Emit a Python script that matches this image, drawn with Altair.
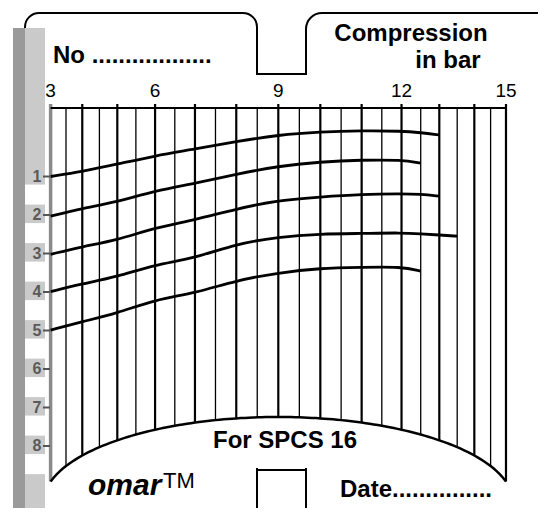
import altair as alt
import pandas as pd

# ---- values read from the card ----
grid_bar = [3, 3.5, 4, 4.5, 5, 5.5, 6, 6.5, 7, 7.5, 8, 8.5, 9, 9.5, 10, 10.5,
            11, 11.5, 12, 12.5, 13, 13.5, 14, 14.5, 15]
tick_labels = [3, 6, 9, 12, 15]
rows = [1, 2, 3, 4, 5, 6, 7, 8]

curve1_bar = [3, 4, 5, 6, 7, 8, 9, 10, 11, 12, 12.5, 13]
curve1_row = [1.00, 0.87, 0.68, 0.46, 0.29, 0.09, -0.08, -0.16, -0.19, -0.18, -0.14, -0.08]
curve2_bar = [3, 4, 5, 6, 7, 8, 9, 10, 11, 12, 12.5]
curve2_row = [2.03, 1.83, 1.66, 1.37, 1.18, 0.94, 0.73, 0.62, 0.57, 0.57, 0.65]
curve3_bar = [3, 4, 5, 6, 7, 8, 9, 10, 11, 12, 12.5, 13]
curve3_row = [3.02, 2.82, 2.65, 2.33, 2.13, 1.84, 1.62, 1.53, 1.46, 1.45, 1.46, 1.51]
curve4_bar = [3, 4, 5, 6, 7, 8, 9, 10, 11, 12, 12.5, 13, 13.5]
curve4_row = [3.99, 3.79, 3.60, 3.29, 3.12, 2.75, 2.57, 2.49, 2.48, 2.46, 2.49, 2.52, 2.55]
curve5_bar = [3, 4, 5, 6, 7, 8, 9, 10, 11, 12, 12.5]
curve5_row = [4.99, 4.77, 4.55, 4.20, 4.03, 3.70, 3.50, 3.38, 3.36, 3.34, 3.46]

FONT = "Liberation Sans"

# ---- tables ----
curves = pd.concat([
    pd.DataFrame({"v": b, "row": r, "curve": name})
    for name, b, r in [("1", curve1_bar, curve1_row), ("2", curve2_bar, curve2_row),
                       ("3", curve3_bar, curve3_row), ("4", curve4_bar, curve4_row),
                       ("5", curve5_bar, curve5_row)]
])
grid = pd.DataFrame({"v": grid_bar})
ticks = pd.DataFrame({"v": tick_labels, "label": [str(t) for t in tick_labels]})
rowdf = pd.DataFrame({"row": rows, "label": [str(r) for r in rows]})
one = pd.DataFrame({"k": [0]})

# card is printed on a curved scale: position ~ sin of the bar value
S_EXPR = "sin((datum.v - 9) * PI / 24)"
BOTTOM_EXPR = "1 + (502.9 - 85.9 * sqrt(max(0, 1 - pow(1.37 * datum.s, 2))) - 176.5) / 38.5"

xs = alt.Scale(domain=[-1, 1], range=[-51.7, 592.3], nice=False, zero=False)
ys = alt.Scale(domain=[1, 8], range=[168.5, 438], nice=False, zero=False)


def X(field):
    return alt.X(field, type="quantitative", scale=xs, axis=None)


def Y(field):
    return alt.Y(field, type="quantitative", scale=ys, axis=None)


def deco_rect(x, x2, y, y2, fill, stroke=None, sw=0, radius=0):
    kw = dict(fill=fill, cornerRadius=radius)
    if stroke:
        kw.update(stroke=stroke, strokeWidth=sw)
    else:
        kw.update(strokeWidth=0)
    return alt.Chart(one).mark_rect(**kw).encode(
        x=alt.value(x), x2=alt.value(x2), y=alt.value(y), y2=alt.value(y2))


def deco_text(txt, x, y, size, weight="bold", align="left", style="normal", color="black"):
    return alt.Chart(pd.DataFrame({"t": [txt]})).mark_text(
        font=FONT, fontSize=size, fontWeight=weight, fontStyle=style,
        align=align, baseline="alphabetic", color=color).encode(
        text="t:N", x=alt.value(x), y=alt.value(y))


# card outline
left_tab = deco_rect(17, 249, 5, 600, "white", "black", 2, 14)
right_tab = deco_rect(298, 560, 5, 600, "white", "black", 2, 16)
cover = deco_rect(246, 301, 67, 460, "white")
notch_top = alt.Chart(one).mark_rule(color="black", strokeWidth=2).encode(
    x=alt.value(249), x2=alt.value(298), y=alt.value(66))
notch_bottom = alt.Chart(one).mark_rule(color="black", strokeWidth=2).encode(
    x=alt.value(249), x2=alt.value(298), y=alt.value(462))

# left grey strip
dark_strip = deco_rect(5, 17, 20, 520, "#9a9a9a")
light_strip = deco_rect(17, 37, 20, 520, "#cacaca")
gaps = alt.Chart(rowdf).transform_calculate(
    a="datum.row + 0.21", b="datum.row + 0.73").mark_rect(fill="white", strokeWidth=0).encode(
    x=alt.value(17), x2=alt.value(37), y=Y("a"), y2=alt.Y2("b"))
row_labels = alt.Chart(rowdf).mark_text(
    font=FONT, fontSize=16, fontWeight="bold", color="#5a5a5a", align="center",
    baseline="middle").encode(text="label:N", x=alt.value(29), y=Y("row"))
row_ticks = alt.Chart(rowdf).mark_rule(color="#555555", strokeWidth=2).encode(
    x=alt.value(35), x2=alt.value(42), y=Y("row"))

# grid
base_grid = alt.Chart(grid).transform_calculate(s=S_EXPR).transform_calculate(bottom=BOTTOM_EXPR)
half_lines = base_grid.transform_filter("datum.v % 1 != 0").mark_rule(
    color="black", strokeWidth=1.3).encode(x=X("s"), y=Y("bottom"), y2=alt.value(100))
int_lines = base_grid.transform_filter("datum.v % 1 == 0 && datum.v > 3").mark_rule(
    color="black", strokeWidth=2.2).encode(x=X("s"), y=Y("bottom"), y2=alt.value(96))
first_line = base_grid.transform_filter("datum.v == 3").mark_rule(
    color="#8a8a8a", strokeWidth=3.5).encode(x=X("s"), y=Y("bottom"), y2=alt.value(96))

top_rule = alt.Chart(pd.DataFrame({"a": [grid_bar[0]], "b": [grid_bar[-1]]})).transform_calculate(
    sa="sin((datum.a - 9) * PI / 24)", sb="sin((datum.b - 9) * PI / 24)").mark_rule(
    color="black", strokeWidth=2).encode(x=X("sa"), x2=alt.X2("sb"), y=alt.value(100))

arc = alt.Chart(alt.sequence(3, 15.05, 0.1, as_="v")).transform_calculate(
    s=S_EXPR).transform_calculate(bottom=BOTTOM_EXPR).mark_line(
    color="black", strokeWidth=2.5).encode(x=X("s"), y=Y("bottom"), order="v:Q")

tick_text = alt.Chart(ticks).transform_calculate(s=S_EXPR).mark_text(
    font=FONT, fontSize=19, align="center", baseline="alphabetic", color="black").encode(
    text="label:N", x=X("s"), y=alt.value(89))

curve_lines = alt.Chart(curves).transform_calculate(s=S_EXPR).mark_line(
    color="black", strokeWidth=2.8, interpolate="basis").encode(
    x=X("s"), y=Y("row"), detail="curve:N", order="v:Q")

texts = [
    deco_text("No ..................", 45, 55, 24),
    deco_text("Compression", 403, 33, 24, align="center"),
    deco_text("in bar", 440, 60, 24, align="center"),
    deco_text("For SPCS 16", 277, 440, 24, align="center"),
    deco_text("omar", 80, 487, 30, style="italic"),
    deco_text("TM", 155, 480, 22, weight="normal"),
    deco_text("Date...............", 332, 489, 24),
]

chart = alt.layer(
    left_tab, right_tab, cover, notch_top, notch_bottom,
    dark_strip, light_strip, gaps,
    half_lines, int_lines, first_line, top_rule, arc,
    curve_lines, tick_text, row_labels, row_ticks, *texts
).properties(
    width=530, height=500, padding=0, autosize="none"
).configure_view(stroke=None)

chart.save("out.html", embed_options={"renderer": "svg", "actions": False})
